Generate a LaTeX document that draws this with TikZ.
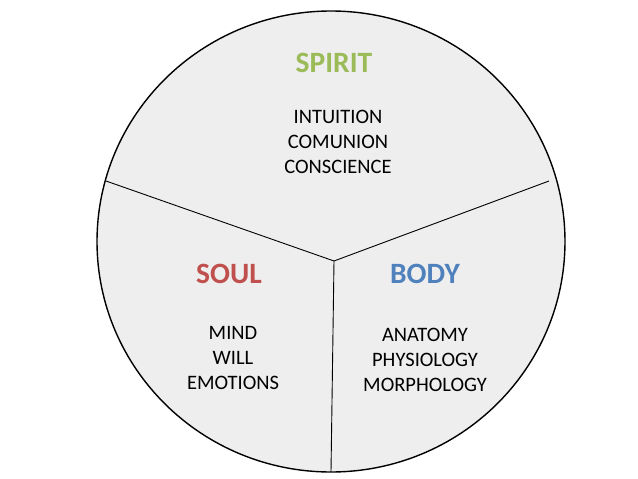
\documentclass[tikz,border=0pt]{standalone}
\usepackage{fontspec}
\setmainfont{Carlito}
\definecolor{spiritc}{HTML}{9BBB59}
\definecolor{soulc}{HTML}{C0504D}
\definecolor{bodyc}{HTML}{4F81BD}
\definecolor{fillc}{HTML}{EEEEEE}
\begin{document}
\begin{tikzpicture}[x=1pt,y=-1pt,
  title/.style={font=\fontsize{29.5}{34}\selectfont\bfseries, anchor=base, inner sep=0pt},
  item/.style={font=\fontsize{20.5}{25}\selectfont, anchor=base, inner sep=0pt},
  divider/.style={draw=black, line width=0.9pt}]
\useasboundingbox (0,0) rectangle (638,479);
\draw[fill=fillc, line width=1.4pt] (331,241.5) ellipse [x radius=234, y radius=230.5];
\coordinate (J) at (334,261);
\coordinate (L) at (106,181);
\coordinate (R) at (549,181);
\coordinate (B) at (331,472);
\draw[divider] (L) -- (J) -- (R);
\draw[divider] (J) -- (B);
\node[title, text=spiritc] (spirit) at (334,72) {SPIRIT};
\node[item] (s1) at (338,123) {INTUITION};
\node[item] (s2) at (338,148) {COMUNION};
\node[item] (s3) at (338,173) {CONSCIENCE};
\node[title, text=soulc] (soul) at (229,283) {SOUL};
\node[item] (o1) at (233,339) {MIND};
\node[item] (o2) at (233,364) {WILL};
\node[item] (o3) at (233,389) {EMOTIONS};
\node[title, text=bodyc] (body) at (425,283) {BODY};
\node[item] (b1) at (425,341) {ANATOMY};
\node[item] (b2) at (425,366) {PHYSIOLOGY};
\node[item] (b3) at (425,391) {MORPHOLOGY};
\end{tikzpicture}
\end{document}
